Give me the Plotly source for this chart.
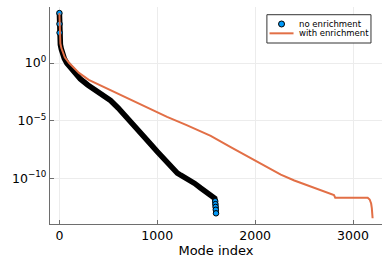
import plotly.graph_objects as go

# ---- data ----
# "no enrichment" (scatter markers, very dense -> appears as a black band)
no_idx = [0, 1, 2, 3, 5, 10, 20, 35, 50, 76, 120, 160, 214, 290, 368, 450, 522,
          600, 700, 800, 900, 1000, 1100, 1140, 1170, 1205, 1240, 1310, 1382,
          1443, 1512, 1550, 1575, 1587, 1592, 1594, 1596, 1598, 1600]
no_val = [2.2e4, 2.5e3, 4.3e2, 2.0e2, 1.0e2, 40, 16, 5.6, 2.5, 1.0, 0.32, 0.13,
          4.2e-2, 1.26e-2, 4.8e-3, 1.6e-3, 5.6e-4, 1.26e-4, 1.6e-5, 1.6e-6,
          1.8e-7, 2.0e-8, 2.2e-9, 8.9e-10, 5.0e-10, 2.8e-10, 1.8e-10, 8.9e-11,
          3.5e-11, 1.4e-11, 5.0e-12, 3.2e-12, 2.2e-12, 1.8e-12, 1.0e-12,
          5.6e-13, 3.2e-13, 1.8e-13, 8.9e-14]

# "with enrichment" (line)
en_idx = [0, 1, 2, 3, 5, 10, 20, 35, 55, 100, 150, 200, 300, 470, 600, 800, 931,
          1100, 1300, 1546, 1750, 2000, 2262, 2400, 2518, 2650, 2774, 2805, 2818,
          3150, 3170, 3185, 3192, 3197, 3200]
en_val = [2.2e4, 2.5e3, 4.3e2, 2.2e2, 1.1e2, 50, 20, 7.9, 3.2, 1.0, 0.35, 0.14,
          3.5e-2, 7.1e-3, 2.1e-3, 3.2e-4, 8.9e-5, 2.1e-5, 4.0e-6, 4.8e-7, 5.0e-8,
          3.5e-9, 2.0e-10, 6.3e-11, 2.8e-11, 1.07e-11, 4.6e-12, 3.5e-12, 2.0e-12,
          2.0e-12, 1.4e-12, 6.3e-13, 2.5e-13, 1.0e-13, 3.3e-14]

series_names = ["no enrichment", "with enrichment"]
x_ticks = [0, 1000, 2000, 3000]
x_ticklabels = ["0", "1000", "2000", "3000"]
y_ticks = [1e0, 1e-5, 1e-10]
y_ticklabels = ["10<sup>0</sup>", "10<sup>−5</sup>", "10<sup>−10</sup>"]

BLUE = "#009AFA"
ORANGE = "#E26F46"
FONT = "DejaVu Sans"

# points that are individually resolvable (top and bottom ends of the series)
iso_idx = no_idx[:3] + no_idx[-5:]
iso_val = no_val[:3] + no_val[-5:]

fig = go.Figure()
# dense overlapping markers -> black band
fig.add_trace(go.Scatter(x=no_idx, y=no_val, mode="lines",
                         line=dict(color="black", width=5.5),
                         showlegend=False, hoverinfo="skip"))
fig.add_trace(go.Scatter(x=iso_idx, y=iso_val, mode="markers", name=series_names[0],
                         showlegend=False,
                         marker=dict(color=BLUE, size=5.5,
                                     line=dict(color="black", width=1))))
fig.add_trace(go.Scatter(x=en_idx, y=en_val, mode="lines", name=series_names[1],
                         showlegend=False,
                         line=dict(color=ORANGE, width=2)))

# compact legend box (Plots.jl style)
lx0, lx1, ly0, ly1 = 0.6533, 0.9668, 0.8341, 0.9645
row1, row2 = 0.9217, 0.8787
shapes = [
    dict(type="rect", xref="paper", yref="paper", x0=lx0, x1=lx1, y0=ly0, y1=ly1,
         line=dict(color="#333", width=1), fillcolor="white", layer="above"),
    dict(type="line", xref="paper", yref="paper", x0=0.6612, x1=0.7335,
         y0=row2, y1=row2, line=dict(color=ORANGE, width=2), layer="above"),
    dict(type="circle", xref="paper", yref="paper", xsizemode="pixel",
         ysizemode="pixel", xanchor=0.6974, yanchor=row1, x0=-3, x1=3, y0=-3, y1=3,
         fillcolor=BLUE, line=dict(color="black", width=1), layer="above"),
]
annotations = [
    dict(text=series_names[0], xref="paper", yref="paper", x=0.7437, y=row1,
         xanchor="left", yanchor="middle", showarrow=False,
         font=dict(size=8.5, family=FONT, color="black")),
    dict(text=series_names[1], xref="paper", yref="paper", x=0.7437, y=row2,
         xanchor="left", yanchor="middle", showarrow=False,
         font=dict(size=8.5, family=FONT, color="black")),
]

fig.update_layout(
    width=389, height=259,
    margin=dict(l=50, r=7, t=7, b=35, autoexpand=False),
    paper_bgcolor="white", plot_bgcolor="white",
    font=dict(family=FONT, color="black"),
    showlegend=False, shapes=shapes, annotations=annotations,
)
fig.update_xaxes(
    range=[-96, 3296], tickvals=x_ticks, ticktext=x_ticklabels,
    showgrid=True, gridcolor="#ececec", gridwidth=1, zeroline=False,
    showline=True, linecolor="#6e6e6e", linewidth=1.3,
    ticks="inside", ticklen=4, tickcolor="#6e6e6e", automargin=False,
    tickfont=dict(size=12.5, family=FONT),
    title=dict(text="Mode index", font=dict(size=13, family=FONT), standoff=2),
)
fig.update_yaxes(
    type="log", range=[-13.98, 4.87], tickvals=y_ticks, ticktext=y_ticklabels,
    showgrid=True, gridcolor="#ececec", gridwidth=1, zeroline=False,
    showline=True, linecolor="#6e6e6e", linewidth=1.3,
    ticks="inside", ticklen=4, tickcolor="#6e6e6e", automargin=False,
    tickfont=dict(size=12.5, family=FONT),
)

fig.write_html("out.html",
               config={"displayModeBar": False},
               post_script="document.body.style.margin='0px';"
                           "document.body.style.overflow='hidden';")
